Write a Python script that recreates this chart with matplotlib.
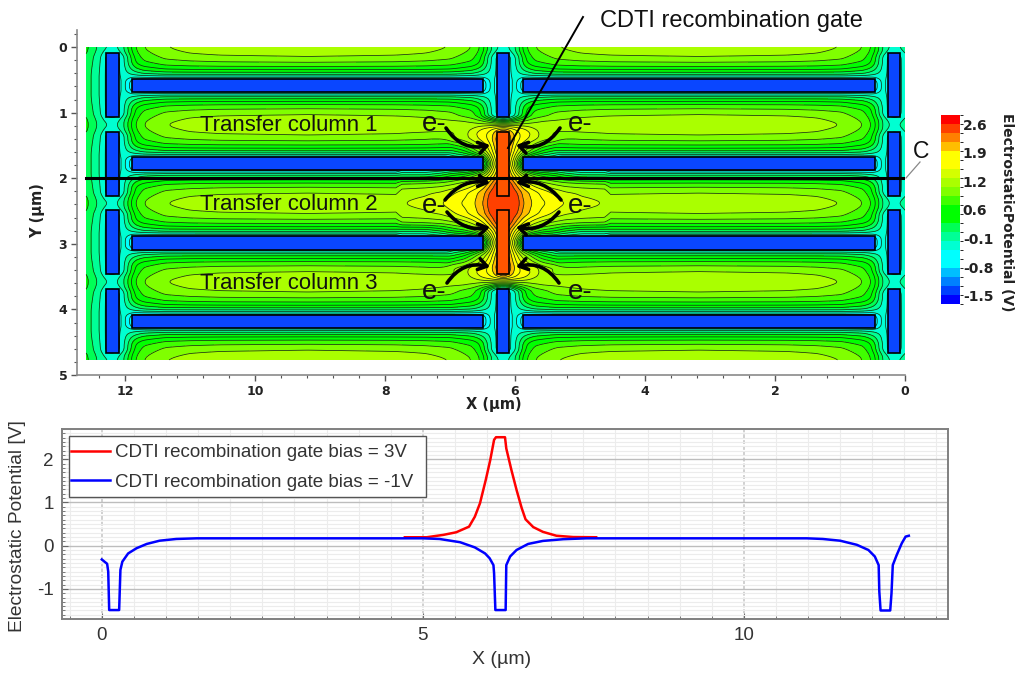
import numpy as np
import matplotlib
matplotlib.use('Agg')
import matplotlib.pyplot as plt
from matplotlib.colors import ListedColormap, BoundaryNorm
from matplotlib.patches import Rectangle, FancyArrowPatch
from matplotlib.lines import Line2D
from matplotlib.ticker import MultipleLocator

plt.rcParams['axes.unicode_minus'] = False
W, H = 1023, 675

# band colours of the colour bar, bottom to top
band_rgb = [(0,0,255),(0,64,255),(0,128,255),(0,190,255),(0,255,255),(0,255,255),(0,255,210),
            (0,255,150),(0,255,85),(0,255,0),(0,255,0),(64,255,0),(128,255,0),(170,255,0),
            (212,255,0),(255,255,0),(255,255,0),(255,190,0),(255,128,0),(255,64,0),(255,0,0)]
cbar_ticks = [-1.54,-0.85,-0.16,0.53,1.22,1.91,2.60]
cbar_labels = ['-1.5','-0.8','-0.1','0.6','1.2','1.9','2.6']

# potential for one repeat cell:
# rows = distance from channel centre, cols = distance from nearest vertical trench centre
cell_t = [0,.08,.16,.25,.31,.36,.40,.43,.46,.49,.54,.6]
cell_w = [-.40,-.30,-.18,-.10,0,.11,.19,.25,.31,.36,.48,.82,1.2,1.67,3.0]
cell_v = [
 [.28,.10,-.08,-.20,-.25,-.20,.02,.25,.50,.65,.86,1.08,1.18,1.25,1.28],
 [.26,.08,-.12,-.28,-.30,-.25,.00,.20,.45,.60,.82,1.02,1.12,1.18,1.22],
 [.20,.02,-.20,-.45,-.70,-.45,-.22,.05,.30,.50,.72,.93,1.00,1.04,1.08],
 [.17,.00,-.22,-.45,-.70,-.45,-.22,.02,.25,.42,.60,.76,.81,.84,.86],
 [.16,-.02,-.23,-.45,-.70,-.45,-.25,-.05,.12,.28,.42,.58,.62,.64,.65],
 [.15,-.03,-.24,-.45,-.70,-.45,-.27,-.12,.00,.10,.25,.38,.41,.42,.43],
 [.15,-.04,-.24,-.45,-.70,-.45,-.30,-.20,-.12,-.05,.08,.18,.19,.20,.21],
 [.15,-.05,-.25,-.45,-.70,-.45,-.33,-.27,-.22,-.18,-.08,.00,.00,.00,.00],
 [.15,-.05,-.25,-.45,-.70,-.45,-.36,-.33,-.33,-.32,-.30,-.25,-.25,-.25,-.25],
 [.15,-.05,-.25,-.45,-.70,-.45,-.40,-.42,-.55,-.60,-.60,-.60,-.60,-.60,-.60],
 [.15,-.05,-.25,-.45,-.70,-.45,-.40,-.50,-.90,-1.0,-1.0,-1.0,-1.0,-1.0,-1.0],
 [.15,-.05,-.25,-.45,-.70,-.45,-.40,-.50,-.95,-1.0,-1.0,-1.0,-1.0,-1.0,-1.0],
]

# raised potential around the biased gates, rows = distance from Y=2.38, cols = distance from X=6.18
gate_d = [0,.08,.17,.30,.43,.60,.78,.98,1.08,1.11,1.15,1.22,1.30,1.45]
gate_u = [0,.1,.2,.3,.45,.6,.8,.95,1.2,1.6]
gate_v = [
 [2.6,2.6,2.55,2.20,1.93,1.78,1.62,1.52,1.38,1.28],
 [2.6,2.6,2.52,2.15,1.90,1.72,1.56,1.44,1.32,1.25],
 [2.6,2.6,2.42,2.10,1.85,1.65,1.44,1.32,1.25,1.20],
 [2.6,2.5,2.10,1.75,1.40,1.18,1.02,.95,.90,.85],
 [2.6,2.1,1.60,1.20,.80,.55,.40,.20,.00,.00],
 [2.6,1.8,1.00,-.2,-1,-1,-1,-1,-1,-1],
 [2.6,2.05,1.55,1.15,.70,.35,.10,-1,-1,-1],
 [2.6,2.25,1.85,1.65,1.42,1.20,1.05,.90,.85,.80],
 [2.6,2.10,1.80,1.68,1.48,1.22,1.05,1.05,1.05,1.05],
 [2.2,1.95,1.72,1.60,1.38,1.18,1.12,1.12,1.15,1.15],
 [1.8,1.72,1.60,1.50,1.30,1.18,1.18,1.20,1.20,1.20],
 [.9,.9,.95,1.0,1.10,1.15,1.18,1.20,1.22,1.25],
 [-.5,-.2,.3,.6,.85,.95,1.0,1.05,1.10,1.15],
 [-9,-9,-9,-9,-9,-9,-9,-9,-9,-9],
]

# device layout (um)
v_trench_x = [(12.09,12.29),(6.09,6.28),(0.08,0.26)]
v_trench_y = [(.09,1.07),(1.30,2.27),(2.485,3.46),(3.69,4.66)]
h_trench_x = [(6.49,11.89),(0.46,5.88)]
h_trench_y = [(.49,.69),(1.68,1.875),(2.88,3.09),(4.085,4.28)]
gate_y = [(1.30,2.27),(2.485,3.46)]

# cut line C, lower plot
blue_x = [0,.083,.10,.115,.27,.29,.32,.41,.54,.70,.90,1.16,1.48,5.0,5.26,5.58,5.81,5.97,6.04,6.10,6.11,6.13,6.29,6.30,6.36,6.46,6.64,6.87,7.19,7.55,10.98,11.23,11.5,11.76,11.94,12.04,12.10,12.11,12.13,12.28,12.30,12.32,12.38,12.46,12.52,12.57]
blue_v = [-.32,-.42,-.60,-1.49,-1.49,-.56,-.37,-.18,-.06,.04,.115,.155,.17,.17,.155,.08,-.04,-.18,-.29,-.45,-.64,-1.49,-1.49,-.45,-.25,-.10,.04,.11,.15,.17,.17,.155,.115,.02,-.10,-.25,-.45,-1.06,-1.50,-1.50,-1.10,-.45,-.22,.055,.21,.23]
red_x = [4.72,5.06,5.32,5.52,5.72,5.81,5.89,5.98,6.05,6.11,6.14,6.28,6.30,6.38,6.46,6.54,6.60,6.72,6.87,7.08,7.34,7.70]
red_v = [.195,.195,.25,.31,.44,.67,.98,1.52,1.98,2.45,2.51,2.51,2.25,1.75,1.29,.87,.61,.43,.32,.23,.20,.195]


def px_axes(fig, l, t, r, b):
    return fig.add_axes([l/W, 1-b/H, (r-l)/W, (b-t)/H])


def table_lookup(xq, yq, xs, ys, table):
    # bilinear lookup of a read-off table
    table = np.array(table, float)
    by_col = np.array([np.interp(xq, xs, row) for row in table])
    return np.array([np.interp(yq, ys, by_col[:, j]) for j in range(by_col.shape[1])]).T


def blur(a, n):
    k = np.ones(n)/n
    pad = n
    a = np.pad(a, pad, mode='edge')
    a = np.apply_along_axis(lambda c: np.convolve(c, k, mode='same'), 0, a)
    a = np.apply_along_axis(lambda c: np.convolve(c, k, mode='same'), 1, a)
    return a[pad:-pad, pad:-pad]


fig = plt.figure(figsize=(W/100, H/100), dpi=100)
sans = ['Liberation Sans', 'DejaVu Sans']

# ---- potential map ----
ax = px_axes(fig, 77, 30, 905, 375)
x = np.linspace(0, 12.6, 900)
y = np.linspace(0, 4.77, 400)
u = np.abs(x-6.18)
w = np.minimum(u, 6.02-u)
ch = (y-1.185+0.6)%1.197-0.6
t = np.abs(ch)
base = table_lookup(w, t, cell_w, cell_t, cell_v)
gate = table_lookup(u, np.abs(y-2.38), gate_u, gate_d, gate_v)
gate[:, u > 1.6] = -9
field = blur(np.maximum(base, gate), 7)

levels = np.linspace(-1.74, 2.82, 22)
cmap = ListedColormap(np.array(band_rgb)/255)
cf = ax.contourf(x, y, field, levels=levels, cmap=cmap, norm=BoundaryNorm(levels, 21))
ax.contour(x, y, field, levels=levels, colors='#143214', linewidths=0.55, negative_linestyles='solid')
ax.set_xlim(12.74, 0)
ax.set_ylim(5, -0.26)

for (x0, x1) in v_trench_x:
    for (y0, y1) in v_trench_y:
        is_gate = x0 == 6.09 and (y0, y1) in gate_y
        fc = '#ff5500' if is_gate else '#0a46ff'
        ax.add_patch(Rectangle((x0, y0), x1-x0, y1-y0, fc=fc, ec='black', lw=1.2, zorder=3))
for (x0, x1) in h_trench_x:
    for (y0, y1) in h_trench_y:
        ax.add_patch(Rectangle((x0, y0), x1-x0, y1-y0, fc='#0a46ff', ec='black', lw=1.2, zorder=3))
ax.plot([0, 12.6], [2.0, 2.0], color='black', lw=2.2, zorder=4)

for s in ['top', 'right']:
    ax.spines[s].set_visible(False)
for s in ['left', 'bottom']:
    ax.spines[s].set_color('#8a8a8a')
    ax.spines[s].set_linewidth(1.2)
ax.set_xticks([12, 10, 8, 6, 4, 2, 0])
ax.set_yticks([0, 1, 2, 3, 4, 5])
ax.xaxis.set_minor_locator(MultipleLocator(0.4))
ax.yaxis.set_minor_locator(MultipleLocator(0.2))
ax.tick_params(which='major', length=4, width=1, color='#555555', labelsize=9, pad=3, labelcolor='#222222')
ax.tick_params(which='minor', length=2.5, width=0.8, color='#555555')
for lab in ax.get_xticklabels()+ax.get_yticklabels():
    lab.set_fontweight('bold')
fig.text(494/W, 1-405/H, 'X (µm)', ha='center', va='center', fontsize=10.5, fontweight='bold', color='#222222')
fig.text(38/W, 1-211/H, 'Y (µm)', ha='center', va='center', rotation=90, fontsize=10.5, fontweight='bold', color='#222222')

# ---- colour bar ----
cax = px_axes(fig, 941, 115, 960, 304)
cb = fig.colorbar(cf, cax=cax, ticks=cbar_ticks, drawedges=False)
cb.ax.set_yticklabels(cbar_labels, fontweight='bold', fontsize=10, color='#222222')
cb.ax.tick_params(length=0, pad=2)
cb.outline.set_visible(False)
fig.text(1007/W, 1-212/H, 'ElectrostaticPotential (V)', ha='center', va='center', rotation=270,
         fontsize=10, fontweight='bold', color='#222222')

# ---- annotations ----
def note(px, py, s, size):
    fig.text(px/W, 1-py/H, s, ha='center', va='center', fontsize=size, family=sans, color='#111111', zorder=6)

def fig_xy(px, py):
    return (px/W, 1-py/H)

note(731, 21.5, 'CDTI recombination gate', 17)
note(289, 125.5, 'Transfer column 1', 15.9)
note(289, 205, 'Transfer column 2', 15.9)
note(289, 283.5, 'Transfer column 3', 15.9)
note(921, 151, 'C', 16.5)
for px in (434, 580):
    for py in (124, 206, 292):
        note(px, py, 'e-', 20)

fig.add_artist(Line2D([583/W, 508/W], [1-17/H, 1-148/H], color='black', lw=1.4, zorder=6))
fig.add_artist(Line2D([906/W, 920/W], [1-178/H, 1-162/H], color='#888888', lw=0.9, zorder=6))

arrow_ends = [((446,128),(490,145),.35), ((445,200),(490,183),-.3), ((447,212),(490,227),.3), ((447,283),(490,267),-.35)]
for (p0, p1, rad) in arrow_ends:
    for sign in (1, -1):
        a = (p0[0] if sign == 1 else 1006-p0[0], p0[1])
        b = (p1[0] if sign == 1 else 1006-p1[0], p1[1])
        fig.add_artist(FancyArrowPatch(fig_xy(*a), fig_xy(*b), transform=fig.transFigure,
                                       connectionstyle='arc3,rad=%f' % (rad*sign), arrowstyle='->,head_length=6,head_width=4',
                                       color='black', lw=2.6, shrinkA=0, shrinkB=0, zorder=6))

# ---- cut line plot ----
ax2 = px_axes(fig, 62, 429, 948, 619)
ax2.plot(red_x, red_v, color='#ff0000', lw=1.8, label='CDTI recombination gate bias = 3V', zorder=3)
ax2.plot(blue_x, blue_v, color='#0000ff', lw=1.8, label='CDTI recombination gate bias = -1V', zorder=4)
ax2.set_xlim(-0.62, 13.18)
ax2.set_ylim(-1.697, 2.70)
ax2.set_xticks([0, 5, 10])
ax2.set_yticks([-1, 0, 1, 2])
ax2.xaxis.set_minor_locator(MultipleLocator(0.5))
ax2.yaxis.set_minor_locator(MultipleLocator(0.1))
ax2.grid(which='minor', color='#ececec', lw=0.8)
ax2.grid(which='major', axis='y', color='#bdbdbd', lw=1.0)
ax2.grid(which='major', axis='x', color='#d0d0d0', lw=1.4, ls=(0, (2, 1)))
ax2.set_axisbelow(True)
for s in ax2.spines.values():
    s.set_color('#808080')
    s.set_linewidth(1.4)
ax2.tick_params(which='major', direction='in', length=4, color='#666666', labelsize=13.5, labelcolor='#333333', pad=6)
ax2.tick_params(which='minor', direction='in', length=2.5, color='#666666')
for lab in ax2.get_xticklabels()+ax2.get_yticklabels():
    lab.set_family(sans)
fig.text(502/W, 1-660/H, 'X (µm)', ha='center', va='center', fontsize=14, family=sans, color='#333333')
fig.text(18/W, 1-526/H, 'Electrostatic Potential [V]', ha='center', va='center', rotation=90, fontsize=13.8, family=sans, color='#333333')
ax2.add_patch(Rectangle((69/W, 1-497/H), 357/W, 61/H, transform=fig.transFigure, fc='white', ec='#555555', lw=1.0, zorder=4.8))
leg = ax2.legend(loc='upper left', bbox_to_anchor=((71-62)/886, 1-(444-429)/190), frameon=False,
                 borderaxespad=0, borderpad=0, prop={'family': sans, 'size': 13.5}, handlelength=2.08,
                 handletextpad=0.27, labelspacing=0.67, labelcolor='#333333')
leg.set_zorder(6)

fig.savefig('out.png', dpi=100)
